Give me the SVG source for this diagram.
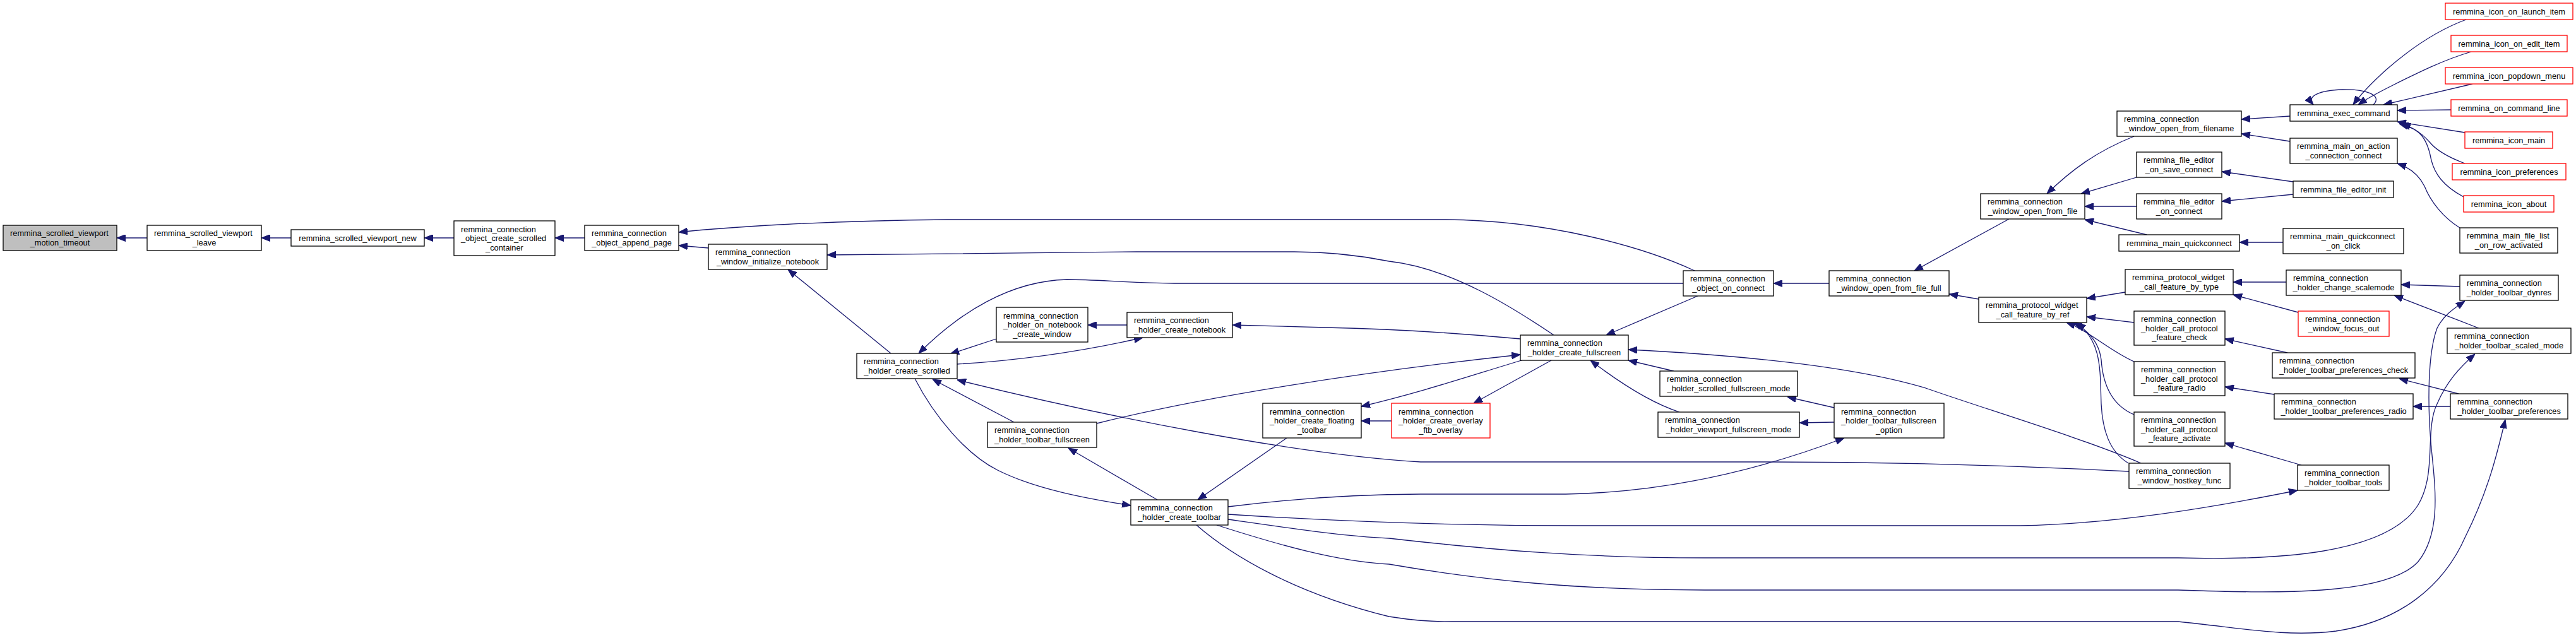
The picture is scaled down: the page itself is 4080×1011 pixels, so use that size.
<svg xmlns="http://www.w3.org/2000/svg" width="4080" height="1011" viewBox="0 0 4080 1011">
<style>
.n rect{fill:#fff;stroke:#000;stroke-width:1.3}
.r rect{stroke:#f00}
.g rect{fill:#bfbfbf}
text{font-family:"Liberation Sans",Arial,sans-serif;font-size:12.8px;fill:#000}
.m{text-anchor:middle}
.e path{fill:none;stroke:#191970;stroke-width:1.3;marker-end:url(#a)}
</style>
<defs>
<marker id="a" markerUnits="userSpaceOnUse" markerWidth="14" markerHeight="11" refX="13" refY="5" orient="auto" viewBox="0 0 13 10"><path d="M0,0 L13,5 L0,10 z" fill="#191970" stroke="#191970"/></marker>
</defs>
<rect width="4080" height="1011" fill="#fff"/>
<g id="edges" class="e">
<path d="M233,377 L185,377"/>
<path d="M461,377 L414,377"/>
<path d="M719,377 L672,377"/>
<path d="M926,377 L879,377"/>
<path d="M2684,429 C2600,390 2450,349 2290,348 L1500,348 C1300,350 1150,360 1075,368"/>
<path d="M1122,393 L1075,389"/>
<path d="M2461,531 C2400,490 2300,425 2200,414 C2150,404 2100,399 2050,399 L1800,399 C1600,400 1400,402 1310,404"/>
<path d="M1411,560 L1248,427"/>
<path d="M2666,449 L1860,449 C1780,448 1740,443 1690,443 C1600,445 1520,495 1455,560"/>
<path d="M1578,537 L1505,561"/>
<path d="M1785,515 L1723,515"/>
<path d="M1516,577 C1600,572 1700,560 1810,535"/>
<path d="M2408,537 C2300,527 2200,521 2100,519 L1952,515"/>
<path d="M1606,669 L1477,601"/>
<path d="M1449,600 C1480,660 1530,720 1580,745 C1640,775 1720,790 1791,801"/>
<path d="M3372,747 C3200,738 3000,732 2800,732 L2250,732 C2050,720 1750,660 1516,602"/>
<path d="M1833,792 L1692,710"/>
<path d="M1737,671 C1900,630 2150,590 2408,562"/>
<path d="M2457,571 L2334,639"/>
<path d="M2204,667 L2156,667"/>
<path d="M2410,571 C2330,595 2250,622 2156,644"/>
<path d="M2038,694 L1897,792"/>
<path d="M2689,469 L2544,531"/>
<path d="M2651,588 L2579,571"/>
<path d="M2660,653 C2620,640 2570,610 2519,571"/>
<path d="M3391,734 C3300,695 3150,650 3050,615 C2950,585 2800,565 2579,554"/>
<path d="M2897,449 L2809,449"/>
<path d="M3182,347 L3032,429"/>
<path d="M3134,474 L3087,466"/>
<path d="M3380,216 C3320,240 3280,270 3242,307"/>
<path d="M3384,281 L3296,307"/>
<path d="M3384,327 L3302,327"/>
<path d="M3400,372 L3302,348"/>
<path d="M3366,463 L3305,473"/>
<path d="M3380,511 L3305,502"/>
<path d="M3380,573 C3340,555 3310,525 3273,511"/>
<path d="M3380,657 C3340,640 3330,600 3328,570 C3325,545 3310,525 3284,511"/>
<path d="M3371,734 C3340,715 3330,680 3328,640 C3326,590 3330,540 3289,512"/>
<path d="M2905,646 L2831,629"/>
<path d="M2905,669 L2850,670"/>
<path d="M1945,803 C2050,790 2150,783 2250,783 L2480,783 C2650,780 2800,740 2921,694"/>
<path d="M1945,815 C2100,825 2300,833 2500,833 L3200,833 C3350,830 3500,805 3639,777"/>
<path d="M1945,823 C2050,838 2130,850 2200,853 C2350,870 2500,884 2700,884 L3450,884 C3600,888 3780,880 3830,800 C3860,750 3840,680 3860,640 C3875,605 3895,583 3920,561"/>
<path d="M1927,832 C2030,865 2120,890 2200,894 C2350,920 2500,935 2700,935 L3450,935 C3600,940 3780,945 3830,890 C3870,840 3855,760 3850,700 C3845,640 3845,560 3860,520 C3870,500 3885,490 3904,477"/>
<path d="M1895,832 C1950,880 2050,940 2200,977 C2240,983 2260,985 2300,985 L3450,985 C3550,995 3620,1010 3700,1000 C3800,985 3870,930 3905,850 C3940,780 3955,720 3968,665"/>
<path d="M3645,737 L3524,702"/>
<path d="M3602,625 L3524,613"/>
<path d="M3623,559 L3524,537"/>
<path d="M3894,624 L3800,600"/>
<path d="M3881,644 L3822,644"/>
<path d="M3926,520 L3792,468"/>
<path d="M3896,454 L3803,451"/>
<path d="M3621,447 L3537,447"/>
<path d="M3640,495 L3537,467"/>
<path d="M3627,184 L3550,189"/>
<path d="M3627,224 L3550,212"/>
<path d="M3632,288 L3519,272"/>
<path d="M3632,308 L3519,319"/>
<path d="M3616,384 L3547,384"/>
<path d="M3906,31 C3860,48 3820,75 3780,110 C3760,128 3740,148 3727,166"/>
<path d="M3914,82 C3870,95 3830,115 3790,135 C3770,145 3750,155 3735,166"/>
<path d="M3916,133 L3775,166"/>
<path d="M3882,174 L3797,175"/>
<path d="M3904,210 L3797,193"/>
<path d="M3904,259 C3880,250 3860,240 3848,225 C3830,205 3815,200 3800,196"/>
<path d="M3902,312 C3870,295 3855,275 3850,250 C3843,215 3830,205 3804,196"/>
<path d="M3896,361 C3870,345 3850,320 3840,295 C3830,275 3815,265 3797,259"/>
<path d="M3759,166 C3775,150 3745,141 3710,142 C3675,143 3652,152 3664,166"/>
</g>
<g id="n1" class="n g"><rect x="5" y="357" width="180" height="40"/><text x="16" y="374">remmina_scrolled_viewport</text><text class="m" x="95" y="389">_motion_timeout</text></g>
<g id="n2" class="n"><rect x="233" y="357" width="181" height="40"/><text x="244" y="374">remmina_scrolled_viewport</text><text class="m" x="323.5" y="389">_leave</text></g>
<g id="n3" class="n"><rect x="461" y="364" width="211" height="26"/><text class="m" x="566.5" y="381.5">remmina_scrolled_viewport_new</text></g>
<g id="n4" class="n"><rect x="719" y="350" width="160" height="55"/><text x="730" y="367.5">remmina_connection</text><text x="730" y="382">_object_create_scrolled</text><text class="m" x="799" y="396.5">_container</text></g>
<g id="n5" class="n"><rect x="926" y="357" width="149" height="40"/><text x="937" y="374">remmina_connection</text><text class="m" x="1000.5" y="389">_object_append_page</text></g>
<g id="n6" class="n"><rect x="1122" y="387" width="188" height="40"/><text x="1133" y="404">remmina_connection</text><text class="m" x="1216" y="419">_window_initialize_notebook</text></g>
<g id="n7" class="n"><rect x="1357" y="560" width="159" height="40"/><text x="1368" y="577">remmina_connection</text><text class="m" x="1436.5" y="592">_holder_create_scrolled</text></g>
<g id="n8" class="n"><rect x="1578" y="487" width="145" height="55"/><text x="1589" y="504.5">remmina_connection</text><text x="1589" y="519">_holder_on_notebook</text><text class="m" x="1650.5" y="533.5">_create_window</text></g>
<g id="n9" class="n"><rect x="1564" y="669" width="173" height="40"/><text x="1575" y="686">remmina_connection</text><text class="m" x="1650.5" y="701">_holder_toolbar_fullscreen</text></g>
<g id="n10" class="n"><rect x="1785" y="495" width="167" height="40"/><text x="1796" y="512">remmina_connection</text><text class="m" x="1868.5" y="527">_holder_create_notebook</text></g>
<g id="n11" class="n"><rect x="1791" y="792" width="154" height="40"/><text x="1802" y="809">remmina_connection</text><text class="m" x="1868" y="824">_holder_create_toolbar</text></g>
<g id="n12" class="n"><rect x="2000" y="639" width="156" height="55"/><text x="2011" y="656.5">remmina_connection</text><text x="2011" y="671">_holder_create_floating</text><text class="m" x="2078" y="685.5">_toolbar</text></g>
<g id="n13" class="n r"><rect x="2204" y="639" width="156" height="55"/><text x="2215" y="656.5">remmina_connection</text><text x="2215" y="671">_holder_create_overlay</text><text class="m" x="2282" y="685.5">_ftb_overlay</text></g>
<g id="n14" class="n"><rect x="2408" y="531" width="171" height="40"/><text x="2419" y="548">remmina_connection</text><text class="m" x="2493.5" y="563">_holder_create_fullscreen</text></g>
<g id="n15" class="n"><rect x="2666" y="429" width="143" height="40"/><text x="2677" y="446">remmina_connection</text><text class="m" x="2737.5" y="461">_object_on_connect</text></g>
<g id="n16" class="n"><rect x="2629" y="588" width="218" height="40"/><text x="2640" y="605">remmina_connection</text><text class="m" x="2738" y="620">_holder_scrolled_fullscreen_mode</text></g>
<g id="n17" class="n"><rect x="2626" y="653" width="224" height="40"/><text x="2637" y="670">remmina_connection</text><text class="m" x="2738" y="685">_holder_viewport_fullscreen_mode</text></g>
<g id="n18" class="n"><rect x="2897" y="429" width="190" height="40"/><text x="2908" y="446">remmina_connection</text><text class="m" x="2992" y="461">_window_open_from_file_full</text></g>
<g id="n19" class="n"><rect x="2905" y="639" width="174" height="55"/><text x="2916" y="656.5">remmina_connection</text><text x="2916" y="671">_holder_toolbar_fullscreen</text><text class="m" x="2992" y="685.5">_option</text></g>
<g id="n20" class="n"><rect x="3137" y="307" width="165" height="40"/><text x="3148" y="324">remmina_connection</text><text class="m" x="3219.5" y="339">_window_open_from_file</text></g>
<g id="n21" class="n"><rect x="3134" y="471" width="171" height="40"/><text x="3145" y="488">remmina_protocol_widget</text><text class="m" x="3219.5" y="503">_call_feature_by_ref</text></g>
<g id="n22" class="n"><rect x="3353" y="176" width="197" height="40"/><text x="3364" y="193">remmina_connection</text><text class="m" x="3451.5" y="208">_window_open_from_filename</text></g>
<g id="n23" class="n"><rect x="3384" y="241" width="135" height="40"/><text x="3395" y="258">remmina_file_editor</text><text class="m" x="3451.5" y="273">_on_save_connect</text></g>
<g id="n24" class="n"><rect x="3384" y="307" width="135" height="40"/><text x="3395" y="324">remmina_file_editor</text><text class="m" x="3451.5" y="339">_on_connect</text></g>
<g id="n25" class="n"><rect x="3356" y="372" width="191" height="26"/><text class="m" x="3451.5" y="389.5">remmina_main_quickconnect</text></g>
<g id="n26" class="n"><rect x="3366" y="427" width="171" height="40"/><text x="3377" y="444">remmina_protocol_widget</text><text class="m" x="3451.5" y="459">_call_feature_by_type</text></g>
<g id="n27" class="n"><rect x="3380" y="493" width="144" height="54"/><text x="3391" y="510">remmina_connection</text><text x="3391" y="524.5">_holder_call_protocol</text><text class="m" x="3452" y="539">_feature_check</text></g>
<g id="n28" class="n"><rect x="3380" y="573" width="144" height="54"/><text x="3391" y="590">remmina_connection</text><text x="3391" y="604.5">_holder_call_protocol</text><text class="m" x="3452" y="619">_feature_radio</text></g>
<g id="n29" class="n"><rect x="3380" y="653" width="144" height="54"/><text x="3391" y="670">remmina_connection</text><text x="3391" y="684.5">_holder_call_protocol</text><text class="m" x="3452" y="699">_feature_activate</text></g>
<g id="n30" class="n"><rect x="3372" y="734" width="160" height="40"/><text x="3383" y="751">remmina_connection</text><text class="m" x="3452" y="766">_window_hostkey_func</text></g>
<g id="n31" class="n"><rect x="3627" y="166" width="170" height="26"/><text class="m" x="3712" y="183.5">remmina_exec_command</text></g>
<g id="n32" class="n"><rect x="3627" y="219" width="170" height="40"/><text x="3638" y="236">remmina_main_on_action</text><text class="m" x="3712" y="251">_connection_connect</text></g>
<g id="n33" class="n"><rect x="3632" y="287" width="159" height="26"/><text class="m" x="3711.5" y="304.5">remmina_file_editor_init</text></g>
<g id="n34" class="n"><rect x="3616" y="362" width="191" height="40"/><text x="3627" y="379">remmina_main_quickconnect</text><text class="m" x="3711.5" y="394">_on_click</text></g>
<g id="n35" class="n"><rect x="3621" y="428" width="182" height="40"/><text x="3632" y="445">remmina_connection</text><text class="m" x="3712" y="460">_holder_change_scalemode</text></g>
<g id="n36" class="n r"><rect x="3640" y="493" width="144" height="40"/><text x="3651" y="510">remmina_connection</text><text class="m" x="3712" y="525">_window_focus_out</text></g>
<g id="n37" class="n"><rect x="3599" y="559" width="226" height="40"/><text x="3610" y="576">remmina_connection</text><text class="m" x="3712" y="591">_holder_toolbar_preferences_check</text></g>
<g id="n38" class="n"><rect x="3602" y="624" width="220" height="40"/><text x="3613" y="641">remmina_connection</text><text class="m" x="3712" y="656">_holder_toolbar_preferences_radio</text></g>
<g id="n39" class="n"><rect x="3639" y="737" width="145" height="40"/><text x="3650" y="754">remmina_connection</text><text class="m" x="3711.5" y="769">_holder_toolbar_tools</text></g>
<g id="n40" class="n r"><rect x="3873" y="5" width="202" height="26"/><text class="m" x="3974" y="22.5">remmina_icon_on_launch_item</text></g>
<g id="n41" class="n r"><rect x="3882" y="56" width="184" height="26"/><text class="m" x="3974" y="73.5">remmina_icon_on_edit_item</text></g>
<g id="n42" class="n r"><rect x="3873" y="107" width="202" height="26"/><text class="m" x="3974" y="124.5">remmina_icon_popdown_menu</text></g>
<g id="n43" class="n r"><rect x="3882" y="158" width="184" height="26"/><text class="m" x="3974" y="175.5">remmina_on_command_line</text></g>
<g id="n44" class="n r"><rect x="3904" y="209" width="139" height="26"/><text class="m" x="3973.5" y="226.5">remmina_icon_main</text></g>
<g id="n45" class="n r"><rect x="3884" y="259" width="180" height="26"/><text class="m" x="3974" y="276.5">remmina_icon_preferences</text></g>
<g id="n46" class="n r"><rect x="3902" y="310" width="143" height="26"/><text class="m" x="3973.5" y="327.5">remmina_icon_about</text></g>
<g id="n47" class="n"><rect x="3896" y="361" width="155" height="40"/><text x="3907" y="378">remmina_main_file_list</text><text class="m" x="3973.5" y="393">_on_row_activated</text></g>
<g id="n48" class="n"><rect x="3896" y="436" width="156" height="40"/><text x="3907" y="453">remmina_connection</text><text class="m" x="3974" y="468">_holder_toolbar_dynres</text></g>
<g id="n49" class="n"><rect x="3876" y="520" width="196" height="40"/><text x="3887" y="537">remmina_connection</text><text class="m" x="3974" y="552">_holder_toolbar_scaled_mode</text></g>
<g id="n50" class="n"><rect x="3881" y="624" width="186" height="40"/><text x="3892" y="641">remmina_connection</text><text class="m" x="3974" y="656">_holder_toolbar_preferences</text></g>
</svg>
